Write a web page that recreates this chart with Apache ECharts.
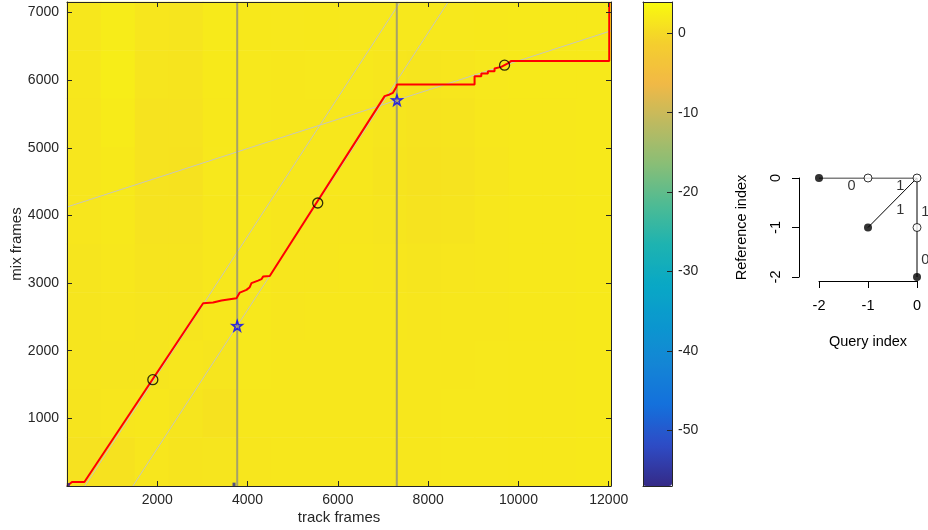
<!DOCTYPE html>
<html><head><meta charset="utf-8">
<script src="https://cdn.jsdelivr.net/npm/echarts@6/dist/echarts.min.js"></script>
<style>html,body{margin:0;padding:0;background:#fff}#c{width:928px;height:530px}</style>
</head><body><div id="c"></div>
<script>
// ---------- data ----------
const trackTicks = [2000, 4000, 6000, 8000, 10000, 12000];
const mixTicks = [1000, 2000, 3000, 4000, 5000, 6000, 7000];
const colorbarTicks = [-50, -40, -30, -20, -10, 0];
const trackMax = 12050, mixMax = 7156;
const cMin = -57.0, cMax = 3.94;

// coarse similarity matrix (rows listed top -> bottom), 16 track bins x 10 mix bins
const heatRows = [
  [1.6, 2.2, 1.5, 1.4, 2.0, 1.8, 1.7, 1.8, 1.7, 1.7, 1.7, 1.7, 1.8, 1.9, 1.9, 1.9],
  [1.6, 2.3, 1.4, 1.3, 1.9, 1.7, 1.6, 1.7, 1.7, 1.5, 1.4, 1.5, 1.7, 1.9, 1.9, 1.9],
  [1.5, 2.1, 1.2, 1.2, 1.8, 1.7, 1.6, 1.6, 1.6, 1.4, 1.2, 1.3, 1.6, 1.8, 1.8, 1.9],
  [1.5, 1.9, 1.2, 1.1, 1.7, 1.6, 1.6, 1.6, 1.6, 1.3, 1.1, 1.2, 1.5, 1.8, 1.8, 1.9],
  [1.5, 1.8, 1.2, 1.2, 1.6, 1.7, 1.5, 1.5, 1.5, 1.4, 1.2, 1.3, 1.6, 1.8, 1.8, 1.9],
  [1.4, 1.6, 1.3, 1.3, 1.6, 1.7, 1.5, 1.5, 1.6, 1.5, 1.4, 1.5, 1.6, 1.8, 1.8, 1.9],
  [1.4, 1.5, 1.4, 1.4, 1.6, 1.7, 1.5, 1.6, 1.6, 1.6, 1.5, 1.6, 1.6, 1.8, 1.8, 1.9],
  [1.4, 1.4, 1.4, 1.5, 1.4, 1.7, 1.6, 1.6, 1.6, 1.6, 1.6, 1.6, 1.7, 1.8, 1.8, 1.9],
  [1.3, 1.5, 1.6, 1.4, 1.1, 1.6, 1.6, 1.6, 1.6, 1.6, 1.6, 1.7, 1.7, 1.8, 1.8, 1.9],
  [1.0, 1.1, 1.5, 1.3, 1.4, 1.5, 1.6, 1.6, 1.6, 1.6, 1.6, 1.7, 1.7, 1.8, 1.8, 1.9]
];

// DTW warping path
const pathTrack = [0, 110, 385, 3015, 3236, 3422, 3754, 3789, 3827, 3975, 4048, 4086, 4232, 4307, 4343, 4491, 7036, 7147, 7220, 7258, 7295, 7309, 9028, 9028, 9177, 9177, 9323, 9323, 9471, 9471, 9619, 9765, 9841, 12011, 12011];
const pathMix   = [0, 60, 60, 2703, 2712, 2742, 2777, 2801, 2860, 2900, 2940, 2999, 3037, 3058, 3096, 3106, 5764, 5789, 5813, 5842, 5901, 5937, 5937, 6059, 6059, 6099, 6099, 6133, 6133, 6173, 6197, 6247, 6285, 6285, 7156];

// guide lines
const diagStartTrack = [1459, 396, 0];
const diagStartMix   = [0, 0, 4125];
const diagEndTrack   = [8443, 7380, 12050];
const diagEndMix     = [7156, 7156, 6730];
const vlineTrack = [3770, 7305];

// markers
const circleTrack = [1901, 5554, 9692];
const circleMix   = [1572, 4184, 6222];
const starTrack = [3770, 7309];
const starMix   = [2368, 5705];
const blueDotTrack = [30, 3700];
const blueDotMix   = [15, 20];

// step pattern inset
const stepLineFrom = [[-2, 0], [-1, -1], [0, -2]];
const stepLineTo   = [[0, 0], [0, 0], [0, 0]];
const stepFilled = [[-2, 0], [-1, -1], [0, -2]];
const stepOpen   = [[-1, 0], [0, 0], [0, -1]];
const weightPos  = [[-1.335, -0.17], [-0.343, -0.16], [-0.343, -0.64], [0.168, -0.68], [0.168, -1.66]];
const weightText = ['0', '1', '1', '1', '0'];

// ---------- chart ----------
const FONT = '"Liberation Sans", Arial, Helvetica, sans-serif';
const AX = '#262626';
const STAR = 'path://M50,0 L61.8,35.1 L97.6,34.5 L68.7,55.9 L79.4,90.5 L50,69.4 L20.6,90.5 L31.3,55.9 L2.4,34.5 L38.2,35.1 Z';
const plain = v => String(v);

const nY = heatRows.length;
const xCats = heatRows[0].map((_, i) => 'x' + i);
const yCats = heatRows.map((_, i) => 'y' + i);
const heatData = [];
heatRows.forEach((row, r) => row.forEach((v, c) => heatData.push([c, nY - 1 - r, v])));

const chart = echarts.init(document.getElementById('c'), null, {renderer: 'canvas'});

const series = [];
series.push({
  type: 'heatmap', xAxisIndex: 2, yAxisIndex: 2, data: heatData,
  silent: true, progressive: 0, itemStyle: {borderWidth: 0}
});
diagStartTrack.forEach((t, i) => series.push({
  type: 'line', xAxisIndex: 0, yAxisIndex: 0, silent: true, showSymbol: false, z: 3,
  data: [[t, diagStartMix[i]], [diagEndTrack[i], diagEndMix[i]]],
  lineStyle: {color: 'rgba(196,196,196,0.95)', width: 1}
}));
vlineTrack.forEach(t => series.push({
  type: 'line', xAxisIndex: 0, yAxisIndex: 0, silent: true, showSymbol: false, z: 3,
  data: [[t, 0], [t, mixMax]],
  lineStyle: {color: 'rgba(150,148,120,0.85)', width: 2}
}));
series.push({
  type: 'line', xAxisIndex: 0, yAxisIndex: 0, silent: true, showSymbol: false, z: 4,
  data: pathTrack.map((t, i) => [t, pathMix[i]]),
  lineStyle: {color: '#ff0000', width: 2}
});
series.push({
  type: 'scatter', xAxisIndex: 0, yAxisIndex: 0, silent: true, z: 5,
  data: circleTrack.map((t, i) => [t, circleMix[i]]),
  symbol: 'circle', symbolSize: 10,
  itemStyle: {color: 'rgba(0,0,0,0)', borderColor: '#000', borderWidth: 1.3}
});
series.push({
  type: 'scatter', xAxisIndex: 0, yAxisIndex: 0, silent: true, z: 5,
  data: starTrack.map((t, i) => [t, starMix[i]]),
  symbol: STAR, symbolSize: 10,
  itemStyle: {color: 'rgba(0,0,0,0)', borderColor: '#0000ff', borderWidth: 1.6}
});
series.push({
  type: 'scatter', xAxisIndex: 0, yAxisIndex: 0, silent: true, z: 5,
  data: blueDotTrack.map((t, i) => [t, blueDotMix[i]]),
  symbol: 'rect', symbolSize: [3, 4],
  itemStyle: {color: '#2b2b9a'}
});
// inset
stepLineFrom.forEach((p, i) => series.push({
  type: 'line', xAxisIndex: 5, yAxisIndex: 5, silent: true, showSymbol: false,
  data: [p, stepLineTo[i]], lineStyle: {color: '#000', width: 1}
}));
series.push({
  type: 'scatter', xAxisIndex: 5, yAxisIndex: 5, silent: true, z: 5,
  data: stepFilled, symbol: 'circle', symbolSize: 8, itemStyle: {color: '#000'}
});
series.push({
  type: 'scatter', xAxisIndex: 5, yAxisIndex: 5, silent: true, z: 5,
  data: stepOpen, symbol: 'circle', symbolSize: 8,
  itemStyle: {color: '#fff', borderColor: '#000', borderWidth: 1}
});
series.push({
  type: 'scatter', xAxisIndex: 5, yAxisIndex: 5, silent: true, clip: false, z: 6,
  data: weightPos.map((p, i) => ({value: p, name: weightText[i]})),
  symbolSize: 1, itemStyle: {color: 'rgba(0,0,0,0)'},
  label: {show: true, position: 'inside', formatter: p => p.name, color: '#000', fontSize: 14.5, fontFamily: FONT}
});

const mainTick = {show: true, inside: true, length: 5, lineStyle: {color: AX, width: 1}};
const rTick = {show: true, inside: false, length: 7, lineStyle: {color: '#000', width: 1}};
const gridBase = {containLabel: false, outerBoundsMode: 'none'};

chart.setOption({
  animation: false,
  textStyle: {fontFamily: FONT},
  grid: [
    Object.assign({left: 67, top: 2, width: 544, height: 484}, gridBase),
    Object.assign({left: 67, top: 2, width: 544, height: 484}, gridBase),
    Object.assign({left: 643, top: 2, width: 29, height: 484}, gridBase),
    Object.assign({left: 819, top: 178, width: 98, height: 99}, gridBase)
  ],
  visualMap: {
    type: 'continuous', min: cMin, max: cMax, seriesIndex: 0,
    show: true, calculable: false, hoverLink: false, realtime: false,
    left: 643, top: 2, itemWidth: 29, itemHeight: 484, padding: 0, text: null,
    inRange: {color: ['#352A87', '#2E4BC5', '#1470DC', '#1485D5', '#0B97CF', '#09A8C5', '#1EB3B0', '#4FBB93', '#8ABE76', '#BDBA60', '#F2B945', '#F4CF2D', '#F9FB0E']}
  },
  xAxis: [
    {gridIndex: 0, type: 'value', min: 0, max: trackMax, position: 'bottom', z: 6,
     axisLine: {show: true, onZero: false, lineStyle: {color: AX, width: 1}},
     axisTick: Object.assign({customValues: trackTicks}, mainTick),
     axisLabel: {customValues: trackTicks, formatter: plain, color: AX, fontSize: 14, margin: 7},
     splitLine: {show: false},
     name: 'track frames', nameLocation: 'middle', nameGap: 24, nameMoveOverlap: false,
     nameTextStyle: {fontSize: 15, color: AX}},
    {gridIndex: 0, type: 'value', min: 0, max: trackMax, position: 'top', z: 6,
     axisLine: {show: true, onZero: false, lineStyle: {color: AX, width: 1}},
     axisTick: Object.assign({customValues: trackTicks}, mainTick),
     axisLabel: {show: false}, splitLine: {show: false}},
    {gridIndex: 1, type: 'category', data: xCats, show: false, boundaryGap: true},
    {gridIndex: 2, type: 'value', min: 0, max: 1, position: 'bottom', z: 10,
     axisLine: {show: true, onZero: false, lineStyle: {color: AX, width: 1}},
     axisTick: {show: false}, axisLabel: {show: false}, splitLine: {show: false}},
    {gridIndex: 2, type: 'value', min: 0, max: 1, position: 'top', z: 10,
     axisLine: {show: true, onZero: false, lineStyle: {color: AX, width: 1}},
     axisTick: {show: false}, axisLabel: {show: false}, splitLine: {show: false}},
    {gridIndex: 3, type: 'value', min: -2, max: 0, interval: 1, position: 'bottom', offset: 4,
     axisLine: {show: true, onZero: false, lineStyle: {color: '#000', width: 1}},
     axisTick: rTick,
     axisLabel: {color: '#000', fontSize: 14.5, margin: 17, formatter: plain},
     splitLine: {show: false},
     name: 'Query index', nameLocation: 'middle', nameGap: 53,
     nameTextStyle: {fontSize: 14.5, color: '#000'}}
  ],
  yAxis: [
    {gridIndex: 0, type: 'value', min: 0, max: mixMax, position: 'left', z: 6,
     axisLine: {show: true, onZero: false, lineStyle: {color: AX, width: 1}},
     axisTick: Object.assign({customValues: mixTicks}, mainTick),
     axisLabel: {customValues: mixTicks, formatter: plain, color: AX, fontSize: 14, margin: 8},
     splitLine: {show: false},
     name: 'mix frames', nameLocation: 'middle', nameGap: 43, nameMoveOverlap: false,
     nameTextStyle: {fontSize: 15, color: AX}},
    {gridIndex: 0, type: 'value', min: 0, max: mixMax, position: 'right', z: 6,
     axisLine: {show: true, onZero: false, lineStyle: {color: AX, width: 1}},
     axisTick: Object.assign({customValues: mixTicks}, mainTick),
     axisLabel: {show: false}, splitLine: {show: false}},
    {gridIndex: 1, type: 'category', data: yCats, show: false, boundaryGap: true},
    {gridIndex: 2, type: 'value', min: cMin, max: cMax, position: 'right', z: 10,
     axisLine: {show: true, onZero: false, lineStyle: {color: AX, width: 1}},
     axisTick: {show: true, inside: true, length: 5, customValues: colorbarTicks, lineStyle: {color: AX}},
     axisLabel: {customValues: colorbarTicks, formatter: plain, color: AX, fontSize: 14, margin: 6},
     splitLine: {show: false}},
    {gridIndex: 2, type: 'value', min: cMin, max: cMax, position: 'left', z: 10,
     axisLine: {show: true, onZero: false, lineStyle: {color: AX, width: 1}},
     axisTick: {show: false}, axisLabel: {show: false}, splitLine: {show: false}},
    {gridIndex: 3, type: 'value', min: -2, max: 0, interval: 1, position: 'left', offset: 20,
     axisLine: {show: true, onZero: false, lineStyle: {color: '#000', width: 1}},
     axisTick: rTick,
     axisLabel: {color: '#000', fontSize: 14.5, margin: 16, rotate: 90, formatter: plain},
     splitLine: {show: false},
     name: 'Reference index', nameLocation: 'middle', nameGap: 50,
     nameTextStyle: {fontSize: 14.5, color: '#000'}}
  ],
  series: series
});
</script></body></html>
